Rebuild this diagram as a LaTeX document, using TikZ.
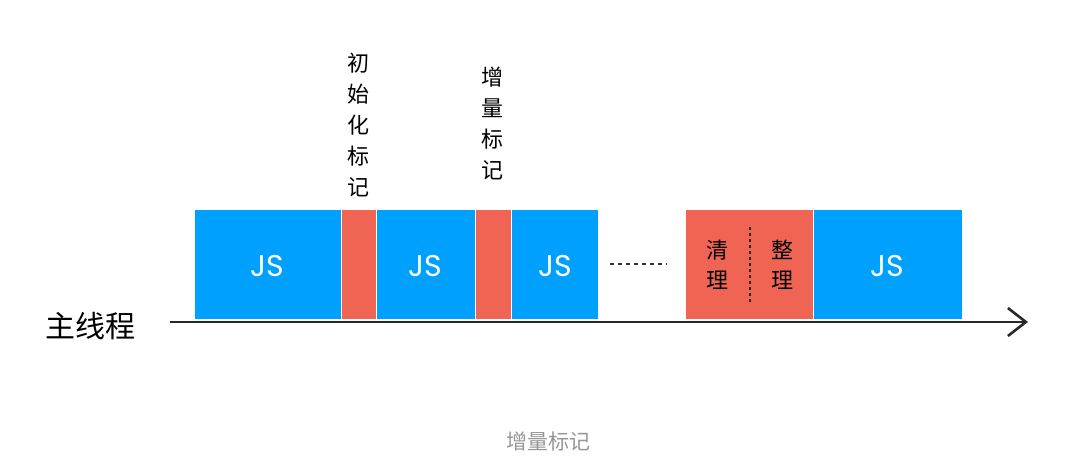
\documentclass[tikz,border=0pt]{standalone}
\usepackage{fontspec}
\newfontfamily\cjk{Noto Sans CJK SC}
\newfontfamily\jsfont{Poppins}
\usetikzlibrary{arrows.meta}
\definecolor{jsblue}{RGB}{0,160,255}
\definecolor{gcred}{RGB}{240,100,84}
\definecolor{inkdark}{RGB}{40,40,40}
\definecolor{capgray}{RGB}{150,150,150}
\tikzset{
  jsbox/.style={fill=jsblue, draw=white, line width=0.8pt},
  gcbox/.style={fill=gcred, draw=white, line width=0.8pt},
  jstext/.style={text=white, font=\jsfont\fontsize{30}{30}\selectfont},
  vlabel/.style={align=center, text=black, font=\cjk\fontsize{22}{31}\selectfont},
  gclabel/.style={align=center, text=black, font=\cjk\fontsize{22}{30}\selectfont},
}
\begin{document}
\begin{tikzpicture}[x=1pt,y=-1pt]
\useasboundingbox (0,0) rectangle (1089,456);
% boxes
\draw[jsbox] (194,209) rectangle (341,319);
\draw[gcbox] (341,209) rectangle (376,319);
\draw[jsbox] (376,209) rectangle (475,319);
\draw[gcbox] (475,209) rectangle (511,319);
\draw[jsbox] (511,209) rectangle (598,319);
\draw[gcbox] (685,209) rectangle (813,319);
\draw[jsbox] (813,209) rectangle (962,319);
% JS labels
\node[jstext] (js1) at (267,266) {JS};
\node[jstext] (js2) at (425,266) {JS};
\node[jstext] (js3) at (555,266) {JS};
\node[jstext] (js4) at (887,266) {JS};
% dotted gap
\coordinate (d1) at (610,264);
\coordinate (d2) at (667,264);
\draw[black!80, line width=1.3pt, dash pattern=on 4pt off 4pt] (d1) -- (d2);
% divider in GC box
\coordinate (v1) at (750,227);
\coordinate (v2) at (750,302);
\draw[black!85, line width=1.3pt, dash pattern=on 3pt off 3pt] (v1) -- (v2);
% GC labels
\node[gclabel] (qingli) at (717,265) {清\\理};
\node[gclabel] (zhengli) at (782,265) {整\\理};
% top labels
\node[vlabel] (init) at (358,125) {初\\始\\化\\标\\记};
\node[vlabel] (incr) at (492,123) {增\\量\\标\\记};
% main thread
\node[font=\cjk\fontsize{30}{30}\selectfont, text=black] (main) at (90,326) {主线程};
\coordinate (as) at (170,322);
\coordinate (ae) at (1028,322);
\draw[inkdark, line width=2.6pt, -{Straight Barb[length=18pt,width=28pt,line width=2.6pt]}] (as) -- (ae);
% caption
\node[font=\cjk\fontsize{21}{21}\selectfont, text=capgray] (cap) at (548,441) {增量标记};
\end{tikzpicture}
\end{document}
